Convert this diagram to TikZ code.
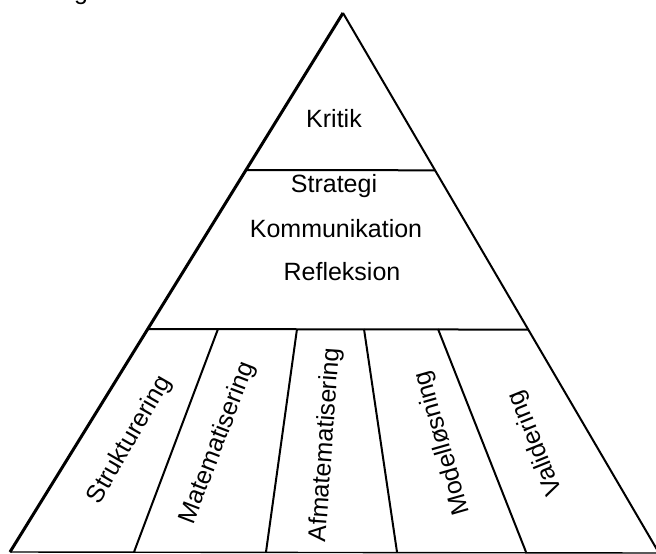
\documentclass[tikz,border=0pt]{standalone}
\usepackage{fontspec}
\setmainfont{Liberation Sans}
\usetikzlibrary{calc}
\tikzset{
  edge/.style={line width=2pt, line join=miter},
  lbl/.style={inner sep=0pt, font=\fontsize{25}{30}\selectfont},
}
\begin{document}
\begin{tikzpicture}[x=1pt, y=-1pt]
\useasboundingbox (0,0) rectangle (656,554);
% corners
\coordinate (A) at (343,13);
\coordinate (BL) at (10,552);
\coordinate (BR) at (659,553);
% horizontal band lines
\coordinate (h1l) at ($(A)!0.2913!(BL)$);
\coordinate (h1r) at ($(A)!0.2913!(BR)$);
\coordinate (h2l) at ($(A)!0.5863!(BL)$);
\coordinate (h2r) at ($(A)!0.5863!(BR)$);
% dividers
\coordinate (d1t) at (218,329); \coordinate (d1b) at (134,552);
\coordinate (d2t) at (297,329); \coordinate (d2b) at (266,552);
\coordinate (d3t) at (364,329); \coordinate (d3b) at (397,552);
\coordinate (d4t) at (438,329); \coordinate (d4b) at (526,552);

\draw[edge, line width=3pt] (A) -- (BL);
\draw[edge] (A) -- (BR);
\draw[line width=1.4pt] (BL) -- (BR);
\draw[edge] (h1l) -- (h1r);
\draw[edge] (h2l) -- (h2r);
\draw[edge] (d1t) -- (d1b);
\draw[edge] (d2t) -- (d2b);
\draw[edge] (d3t) -- (d3b);
\draw[edge] (d4t) -- (d4b);

% fragment of a cut-off text line above
\begin{scope}
\clip (0,0) rectangle (656,554);
\node[lbl, anchor=base] (frag) at (81,-1) {g};
\end{scope}

\node[lbl, anchor=base] (kritik) at (334,127) {Kritik};
\node[lbl, anchor=base] (strategi) at (334,192) {Strategi};
\node[lbl, anchor=base] (komm) at (336,237) {Kommunikation};
\node[lbl, anchor=base] (refl) at (342,280) {Refleksion};

\node[lbl, rotate=60] (strukt) at (130,440) {Strukturering};
\node[lbl, rotate=69] (matem) at (218,443) {Matematisering};
\node[lbl, rotate=86] (afmat) at (326,445) {Afmatematisering};
\node[lbl, rotate=106] (model) at (443,443) {Modelløsning};
\node[lbl, rotate=112] (valid) at (536,443) {Validering};
\end{tikzpicture}
\end{document}
